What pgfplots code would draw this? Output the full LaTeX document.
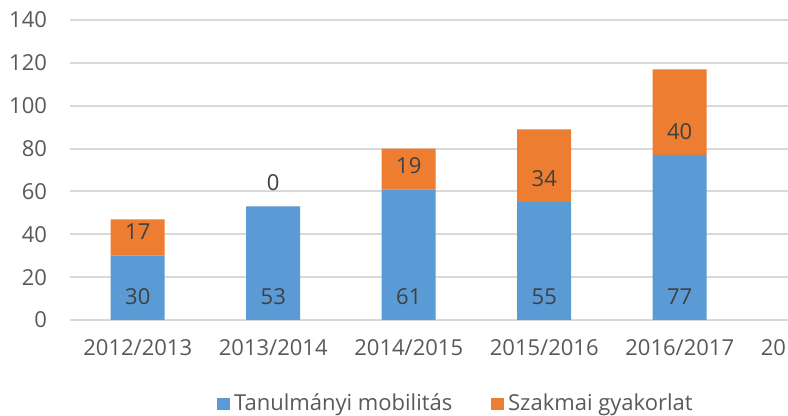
\documentclass[border=0pt]{standalone}
\usepackage{pgfplots}
\usepackage{pgfplotstable}
\pgfplotsset{compat=1.18}
\usepackage{fontspec}
\setmainfont{Open Sans}
\definecolor{cblue}{HTML}{5B9BD5}
\definecolor{corange}{HTML}{ED7D31}
\definecolor{cgrid}{HTML}{D9D9D9}
\definecolor{ctick}{HTML}{595959}
\definecolor{clab}{HTML}{404040}

\pgfplotstableread{
x blue orange
0 30 17
1 53 0
2 61 19
3 55 34
4 77 40
}\datatable

\begin{document}
\begin{tikzpicture}
\useasboundingbox (-35pt,-48pt) rectangle (359pt,160pt);
\clip (-35pt,-48pt) rectangle (359pt,160pt);
\begin{axis}[
  at={(0pt,0pt)}, anchor=south west,
  scale only axis, width=406.5pt, height=150pt,
  ybar stacked, bar width=27pt,
  stacked ignores zero=false,
  xmin=-0.5, xmax=5.5, ymin=0, ymax=140,
  ytick={0,20,...,140},
  xtick={0,...,5},
  xticklabels={2012/2013,2013/2014,2014/2015,2015/2016,2016/2017,2017/2018},
  axis line style={draw=none},
  major tick length=0pt,
  ymajorgrids,
  major grid style={cgrid, line width=1pt},
  /pgf/number format/assume math mode=true,
  tick label style={font=\fontsize{11}{13}\selectfont, text=ctick},
  yticklabel style={xshift=-8pt},
  xticklabel style={yshift=-6pt},
  legend style={at={(0.476,-0.28)}, anchor=center, draw=none, fill=none,
    legend columns=2, font=\fontsize{11}{13}\selectfont, text=ctick,
    /tikz/every even column/.append style={column sep=17.5pt},
    legend cell align=left},
  legend image code/.code={\path[#1] (0pt,-3.2pt) rectangle (6.4pt,3.2pt);},
  nodes near coords,
  point meta=explicit symbolic,
  visualization depends on={rawy \as \oval},
  every node near coord/.append style={anchor=center, font=\fontsize{11}{13}\selectfont, text=clab,
    yshift={(11-\oval/2)*1.0714}},
]
\addplot[fill=cblue, draw=none] table[x=x, y=blue, meta=blue] {\datatable};
\addlegendentry{Tanulmányi mobilitás}
\addplot[fill=corange, draw=none] table[x=x, y=orange, meta=orange] {\datatable};
\addlegendentry{Szakmai gyakorlat}
\end{axis}
\end{tikzpicture}
\end{document}
